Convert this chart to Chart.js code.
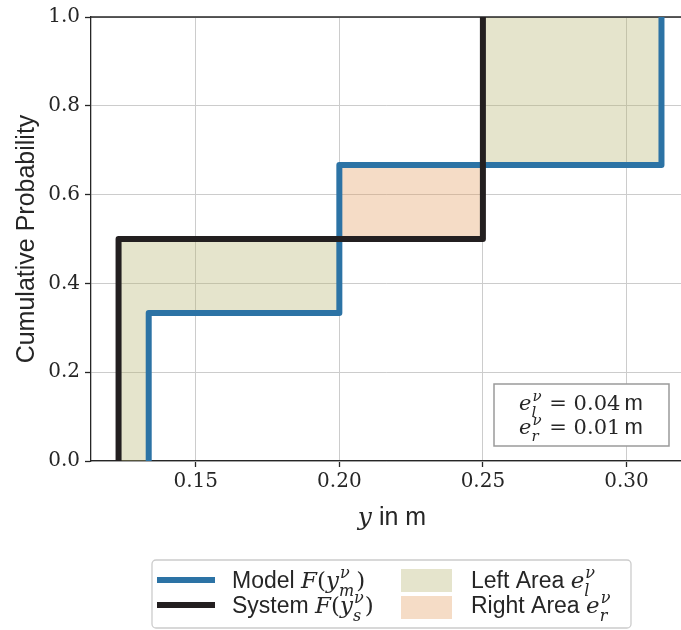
<!DOCTYPE html>
<html>
<head>
<meta charset="utf-8">
<script src="https://cdn.jsdelivr.net/npm/chart.js@4.4.1/dist/chart.umd.min.js"></script>
<style>
  html, body { margin: 0; padding: 0; background: #fff; }
  #wrap { width: 681px; height: 630px; }
</style>
</head>
<body>
<div id="wrap"><canvas id="cdf_chart" width="681" height="630"></canvas></div>
<script>
// step positions (m) and cumulative probability reached at each step
const modelX = [0.1336, 0.2000, 0.3122];
const modelP = [1 / 3, 2 / 3, 1.0];
const systemX = [0.1231, 0.2500];
const systemP = [0.5, 1.0];

const xTicks = [0.15, 0.20, 0.25, 0.30];
const xRange = [0.1135, 0.319];

const BLUE = "#2c73a5";
const BLACK = "#231f20";
const LEFT_FILL = "rgba(181, 178, 109, 0.35)";
const RIGHT_FILL = "rgba(226, 155, 92, 0.35)";
const SERIF = '"DejaVu Serif"';
const SANS = '"Liberation Sans"';

// vertices of an empirical CDF drawn as a staircase
function stepPoints(xs, ps) {
  const pts = [{ x: xs[0], y: -0.05 }];
  for (let i = 0; i < xs.length; i++) {
    pts.push({ x: xs[i], y: ps[i] });
    if (i + 1 < xs.length) pts.push({ x: xs[i + 1], y: ps[i] });
  }
  return pts;
}

// regions between the two staircases
const leftAreas = [
  [[systemX[0], 0], [systemX[0], systemP[0]], [modelX[1], systemP[0]],
   [modelX[1], modelP[0]], [modelX[0], modelP[0]], [modelX[0], 0]],
  [[systemX[1], modelP[1]], [systemX[1], systemP[1]],
   [modelX[2], systemP[1]], [modelX[2], modelP[1]]],
];
const rightAreas = [
  [[modelX[1], systemP[0]], [modelX[1], modelP[1]],
   [systemX[1], modelP[1]], [systemX[1], systemP[0]]],
];

function polyArea(poly) {
  let a = 0;
  for (let i = 0; i < poly.length; i++) {
    const p = poly[i], q = poly[(i + 1) % poly.length];
    a += p[0] * q[1] - q[0] * p[1];
  }
  return Math.abs(a) / 2;
}
const eLeft = leftAreas.reduce((s, p) => s + polyArea(p), 0);
const eRight = rightAreas.reduce((s, p) => s + polyArea(p), 0);

function fontFor(kind, size) {
  if (kind === "sans") return size + "px " + SANS;
  if (kind === "it") return "italic " + size + "px " + SERIF;
  return size + "px " + SERIF;
}

// draws a run of mixed text (plain, math italic, stacked sup/sub); returns width
function drawRich(ctx, parts, x, y, size, draw) {
  let cx = x;
  ctx.textAlign = "left";
  ctx.textBaseline = "alphabetic";
  parts.forEach(function (p) {
    if (p.sup !== undefined) {
      const s = Math.round(size * 0.7);
      ctx.font = fontFor("it", s);
      const w = Math.max(ctx.measureText(p.sup).width, ctx.measureText(p.sub).width);
      if (draw) {
        ctx.fillText(p.sup, cx + 1, y - size * 0.42);
        ctx.fillText(p.sub, cx, y + size * 0.34);
      }
      cx += w + 2;
    } else {
      ctx.font = fontFor(p.k, p.size || size);
      if (draw) ctx.fillText(p.t, cx, y);
      cx += ctx.measureText(p.t).width;
    }
  });
  return cx - x;
}

const legendItems = [
  { kind: "line", color: BLUE,
    text: [{ k: "sans", t: "Model " }, { k: "it", t: "F" }, { k: "rm", t: "(" }, { k: "it", t: "y" },
           { sup: "ν", sub: "m" }, { k: "rm", t: ")" }] },
  { kind: "line", color: BLACK,
    text: [{ k: "sans", t: "System " }, { k: "it", t: "F" }, { k: "rm", t: "(" }, { k: "it", t: "y" },
           { sup: "ν", sub: "s" }, { k: "rm", t: ")" }] },
  { kind: "patch", color: LEFT_FILL,
    text: [{ k: "sans", t: "Left Area " }, { k: "it", t: "e" }, { sup: "ν", sub: "l" }] },
  { kind: "patch", color: RIGHT_FILL,
    text: [{ k: "sans", t: "Right Area " }, { k: "it", t: "e" }, { sup: "ν", sub: "r" }] },
];

const areaPlugin = {
  id: "areas",
  beforeDatasetsDraw(chart) {
    const ctx = chart.ctx, xs = chart.scales.x, ys = chart.scales.y, ca = chart.chartArea;
    ctx.save();
    ctx.beginPath();
    ctx.rect(ca.left, ca.top, ca.right - ca.left, ca.bottom - ca.top);
    ctx.clip();
    function fillPolys(polys, color) {
      ctx.fillStyle = color;
      polys.forEach(function (poly) {
        ctx.beginPath();
        poly.forEach(function (v, i) {
          const px = xs.getPixelForValue(v[0]), py = ys.getPixelForValue(v[1]);
          if (i === 0) ctx.moveTo(px, py); else ctx.lineTo(px, py);
        });
        ctx.closePath();
        ctx.fill();
      });
    }
    fillPolys(leftAreas, LEFT_FILL);
    fillPolys(rightAreas, RIGHT_FILL);
    ctx.restore();

    // top spine
    ctx.save();
    ctx.strokeStyle = "#262626";
    ctx.lineWidth = 1.3;
    ctx.beginPath();
    ctx.moveTo(ca.left, ca.top);
    ctx.lineTo(ca.right, ca.top);
    ctx.stroke();
    ctx.restore();
  },
  afterDraw(chart) {
    const ctx = chart.ctx;
    ctx.save();
    ctx.fillStyle = "#262626";

    // x axis title
    const xt = [{ k: "it", t: "y" }, { k: "sans", t: " in m" }];
    const w = drawRich(ctx, xt, 0, 0, 25, false);
    drawRich(ctx, xt, 392 - w / 2, 525, 25, true);

    // error annotation box
    ctx.fillStyle = "#fff";
    ctx.fillRect(494, 384, 175, 62);
    ctx.strokeStyle = "#9a9a9a";
    ctx.lineWidth = 1.5;
    ctx.strokeRect(494, 384, 175, 62);
    ctx.fillStyle = "#262626";
    const lines = [
      [{ k: "it", t: "e" }, { sup: "ν", sub: "l" }, { k: "rm", t: " = " + eLeft.toFixed(2) + "\u2009" }, { k: "sans", t: "m", size: 22 }],
      [{ k: "it", t: "e" }, { sup: "ν", sub: "r" }, { k: "rm", t: " = " + eRight.toFixed(2) + "\u2009" }, { k: "sans", t: "m", size: 22 }],
    ];
    lines.forEach(function (ln, i) {
      const lw = drawRich(ctx, ln, 0, 0, 21, false);
      drawRich(ctx, ln, 581 - lw / 2, 410 + i * 24, 21, true);
    });

    // legend
    ctx.fillStyle = "#fff";
    ctx.strokeStyle = "#cccccc";
    ctx.lineWidth = 1.3;
    ctx.beginPath();
    ctx.roundRect(152, 560, 479, 68, 4);
    ctx.fill();
    ctx.stroke();
    legendItems.forEach(function (item, i) {
      const col = Math.floor(i / 2), row = i % 2;
      const cy = 580 + row * 25;
      if (item.kind === "line") {
        ctx.strokeStyle = item.color;
        ctx.lineWidth = 6;
        ctx.beginPath();
        ctx.moveTo(157, cy);
        ctx.lineTo(215, cy);
        ctx.stroke();
      } else {
        ctx.fillStyle = item.color;
        ctx.fillRect(401, cy - 11 + row * 2, 51, 23);
      }
      ctx.fillStyle = "#262626";
      drawRich(ctx, item.text, col === 0 ? 232 : 471, cy + 8, 23, true);
    });
    ctx.restore();
  },
};

new Chart("cdf_chart", {
  type: "scatter",
  data: {
    datasets: [
      {
        label: "System",
        data: stepPoints(systemX, systemP),
        showLine: true,
        borderColor: BLACK,
        borderWidth: 6,
        borderJoinStyle: "round",
        pointRadius: 0,
        clip: 0,
        order: 0,
      },
      {
        label: "Model",
        data: stepPoints(modelX, modelP),
        showLine: true,
        borderColor: BLUE,
        borderWidth: 6,
        borderJoinStyle: "round",
        pointRadius: 0,
        clip: 0,
        order: 1,
      },
    ],
  },
  options: {
    responsive: false,
    animation: false,
    layout: { padding: { top: 14, left: 0, right: 0, bottom: 94 } },
    plugins: { legend: { display: false }, tooltip: { enabled: false } },
    scales: {
      x: {
        type: "linear",
        min: xRange[0],
        max: xRange[1],
        afterBuildTicks: function (scale) {
          scale.ticks = xTicks.map(function (v) { return { value: v }; });
        },
        afterFit: function (scale) { scale.height = 75; },
        grid: { color: "#cccccc", lineWidth: 1, tickLength: 6, tickColor: "#262626", tickWidth: 1.3 },
        border: { color: "#262626", width: 1.3 },
        ticks: {
          font: { family: SERIF, size: 20 },
          color: "#262626",
          padding: 3,
          maxRotation: 0,
          callback: function (v) { return v.toFixed(2); },
        },
      },
      y: {
        min: 0,
        max: 1,
        afterFit: function (scale) { scale.width = 91; },
        grid: { color: "#cccccc", lineWidth: 1, tickLength: 6, tickColor: "#262626", tickWidth: 1.3 },
        border: { color: "#262626", width: 1.3 },
        ticks: {
          stepSize: 0.2,
          font: { family: SERIF, size: 20 },
          color: "#262626",
          padding: 5,
          callback: function (v) { return v.toFixed(1); },
        },
        title: {
          display: true,
          text: "Cumulative Probability",
          font: { family: SANS, size: 25 },
          color: "#262626",
          padding: { top: 12, bottom: 0 },
        },
      },
    },
  },
  plugins: [areaPlugin],
});
</script>
</body>
</html>
